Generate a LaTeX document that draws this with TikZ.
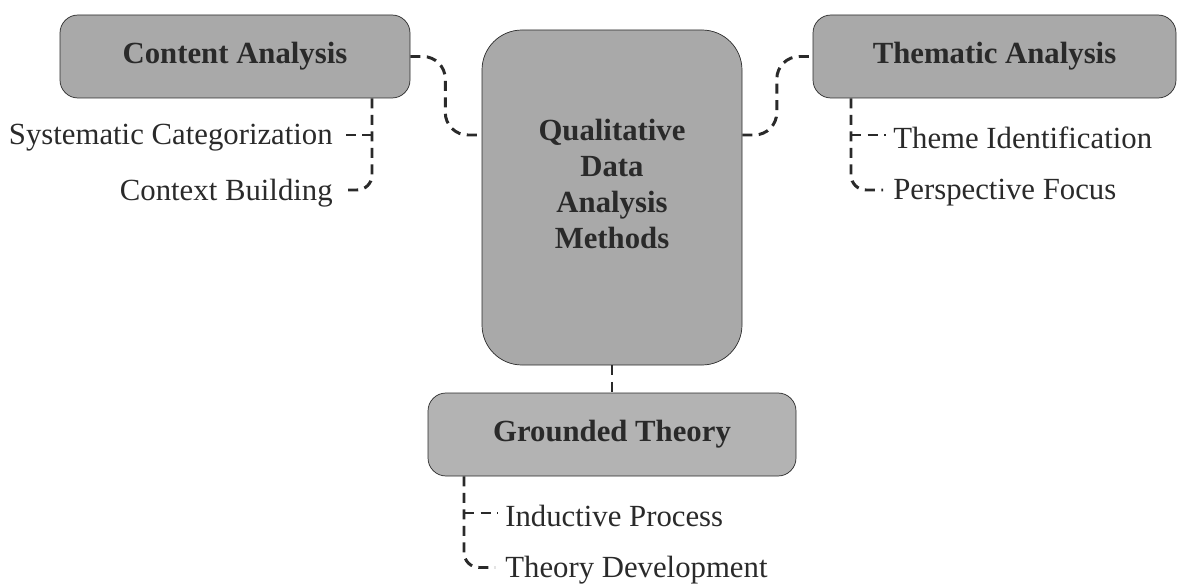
\documentclass[tikz,border=0pt]{standalone}
\usepackage{fontspec}
\setmainfont{Liberation Serif}
\usetikzlibrary{calc,positioning}
\definecolor{boxfill}{HTML}{A9A9A9}
\definecolor{boxfilllight}{HTML}{B3B3B3}
\definecolor{ink}{HTML}{2A2A2A}
\tikzset{line width=1.7pt,
  every node/.style={font=\fontsize{17.5}{20.5}\selectfont,text=ink},
  method/.style={draw=ink,fill=boxfill,rounded corners=.36cm,minimum width=7cm,minimum height=1.66cm,font=\fontsize{17.5}{20.5}\selectfont\bfseries},
  hub/.style={method,rounded corners=.8cm,minimum width=5.2cm,minimum height=6.7cm,align=center},
  link/.style={draw=ink,line width=1.7pt,dash pattern=on .2cm off .13cm,rounded corners=.45cm},
  twig/.style={link,rounded corners=.3cm},
  item/.style={inner sep=0pt}}

\begin{document}
\begin{tikzpicture}
\useasboundingbox(0,0)rectangle(23.54,11.68);
% method boxes
\node[hub](qd)at(12.24,7.73){Qualitative\\Data\\Analysis\\Methods\rule[-.54cm]{0pt}{0pt}};
\node[method](ca)at(4.70,10.55){Content Analysis};
\node[method,minimum width=7.26cm](ta)at(19.89,10.55){Thematic Analysis};
\node[method,fill=boxfilllight,minimum width=7.36cm](gt)at(12.24,2.99){Grounded Theory};
% links to the hub
\coordinate(qdl)at([yshift=1.25cm]qd.west);\coordinate(qdr)at([yshift=1.25cm]qd.east);
\draw[link](ca.east)--($(ca.east)!.49!(qdl|-ca.east)$)|-(qdl);
\draw[link](qdr)--($(qdr)!.49!(ta.west|-qdr)$)|-(ta.west);
\draw[link](qd.south)--(gt.north);
% sub items
\node[item,anchor=east](sc)at(6.66,8.92){Systematic Categorization};
\node[item,anchor=east](cb)at(6.66,7.82){Context Building};
\node[item,anchor=west](ti)at(17.86,8.92){Theme Identification};
\node[item,anchor=west](pf)at(17.86,7.82){Perspective Focus};
\node[item,anchor=west](ip)at(10.10,1.36){Inductive Process};
\node[item,anchor=west](td)at(10.10,0.27){Theory Development};
\coordinate(car)at([xshift=2.74cm]ca.south);
\coordinate(tar)at([xshift=-2.87cm]ta.south);
\coordinate(gtr)at([xshift=-2.96cm]gt.south);
\draw[twig](car)|-([xshift=.2cm,yshift=.06cm]cb.east);\draw[link]([yshift=.06cm]sc.east-|car)--([xshift=.14cm,yshift=.06cm]sc.east);
\draw[twig](tar)|-([xshift=-.2cm,yshift=.06cm]pf.west);\draw[link]([yshift=.06cm]ti.west-|tar)--([xshift=-.14cm,yshift=.06cm]ti.west);
\draw[twig](gtr)|-([xshift=-.2cm,yshift=.06cm]td.west);\draw[link]([yshift=.06cm]ip.west-|gtr)--([xshift=-.14cm,yshift=.06cm]ip.west);
\end{tikzpicture}
\end{document}
